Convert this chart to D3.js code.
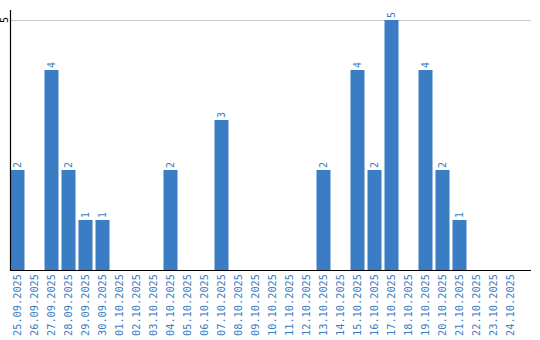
<!DOCTYPE html>
<html>
<head>
<meta charset="utf-8">
<script src="https://cdn.jsdelivr.net/npm/d3@7"></script>
<style>
  body { margin: 0; background: #fff; }
  svg { display: block; }
</style>
</head>
<body>
<div id="chart-area"></div>
<script>
const dates = ["25.09.2025", "26.09.2025", "27.09.2025", "28.09.2025", "29.09.2025", "30.09.2025",
    "01.10.2025", "02.10.2025", "03.10.2025", "04.10.2025", "05.10.2025", "06.10.2025",
    "07.10.2025", "08.10.2025", "09.10.2025", "10.10.2025", "11.10.2025", "12.10.2025",
    "13.10.2025", "14.10.2025", "15.10.2025", "16.10.2025", "17.10.2025", "18.10.2025",
    "19.10.2025", "20.10.2025", "21.10.2025", "22.10.2025", "23.10.2025", "24.10.2025"];
const counts = [2, 0, 4, 2, 1, 1, 0, 0, 0, 2, 0, 0, 3, 0, 0, 0, 0, 0,
    2, 0, 4, 2, 5, 0, 4, 2, 1, 0, 0, 0];
const yTicks = [5];

const FIGURE = { WIDTH: 540, HEIGHT: 340 };
const PLOT = { LEFT: 10, TOP: 10, RIGHT: 531, BOTTOM: 270 };
const BLUE = '#3b7dc4';
const FONT = '"DejaVu Sans Mono", monospace';

const data = dates.map((d, i) => ({ date: d, value: counts[i] }));

let svg = d3.select('#chart-area')
    .append('svg')
        .attr('width', FIGURE.WIDTH)
        .attr('height', FIGURE.HEIGHT);

// band scale: step 17px, bars start on the axis
let x = d3.scaleBand()
    .domain(dates)
    .range([PLOT.LEFT + 0.5, PLOT.LEFT + 0.5 + dates.length * 17])
    .paddingInner(3 / 17)
    .paddingOuter(1.5 / 17)
    .align(0);

let y = d3.scaleLinear()
    .domain([0, 5])
    .range([PLOT.BOTTOM, 20]);

// gridline
svg.selectAll('.grid')
    .data(yTicks)
    .enter()
    .append('line')
        .attr('class', 'grid')
        .attr('x1', PLOT.LEFT)
        .attr('x2', PLOT.RIGHT)
        .attr('y1', d => y(d) + 0.5)
        .attr('y2', d => y(d) + 0.5)
        .attr('stroke', '#c8c8c8')
        .attr('stroke-width', 1);

// bars
svg.selectAll('rect')
    .data(data.filter(d => d.value > 0))
    .enter()
    .append('rect')
        .attr('x', d => x(d.date))
        .attr('y', d => y(d.value))
        .attr('width', x.bandwidth())
        .attr('height', d => y(0) - y(d.value))
        .attr('fill', BLUE);

// value labels
svg.selectAll('.val')
    .data(data.filter(d => d.value > 0))
    .enter()
    .append('text')
        .attr('class', 'val')
        .attr('transform', d => `translate(${x(d.date) + x.bandwidth() / 2 + 3.5}, ${y(d.value) - 2}) rotate(-90)`)
        .attr('font-family', FONT)
        .attr('font-size', 10)
        .attr('fill', BLUE)
        .text(d => d.value);

// y tick label
svg.selectAll('.ytick')
    .data(yTicks)
    .enter()
    .append('text')
        .attr('class', 'ytick')
        .attr('transform', d => `translate(7.5, ${y(d)}) rotate(-90)`)
        .attr('text-anchor', 'middle')
        .attr('font-family', FONT)
        .attr('font-size', 10)
        .attr('fill', '#000')
        .text(d => d);

// axis lines
svg.append('line')
    .attr('x1', PLOT.LEFT + 0.5).attr('x2', PLOT.LEFT + 0.5)
    .attr('y1', PLOT.TOP).attr('y2', PLOT.BOTTOM + 1)
    .attr('stroke', '#000').attr('stroke-width', 1.2);
svg.append('line')
    .attr('x1', PLOT.LEFT).attr('x2', PLOT.RIGHT)
    .attr('y1', PLOT.BOTTOM + 0.5).attr('y2', PLOT.BOTTOM + 0.5)
    .attr('stroke', '#000').attr('stroke-width', 1.2);

// date labels
svg.selectAll('.xlab')
    .data(dates)
    .enter()
    .append('text')
        .attr('class', 'xlab')
        .attr('transform', d => `translate(${x(d) + x.bandwidth() / 2 + 3.5}, ${PLOT.BOTTOM + 4}) rotate(-90)`)
        .attr('text-anchor', 'end')
        .attr('font-family', FONT)
        .attr('font-size', 10.3)
        .attr('fill', BLUE)
        .text(d => d);
</script>
</body>
</html>
